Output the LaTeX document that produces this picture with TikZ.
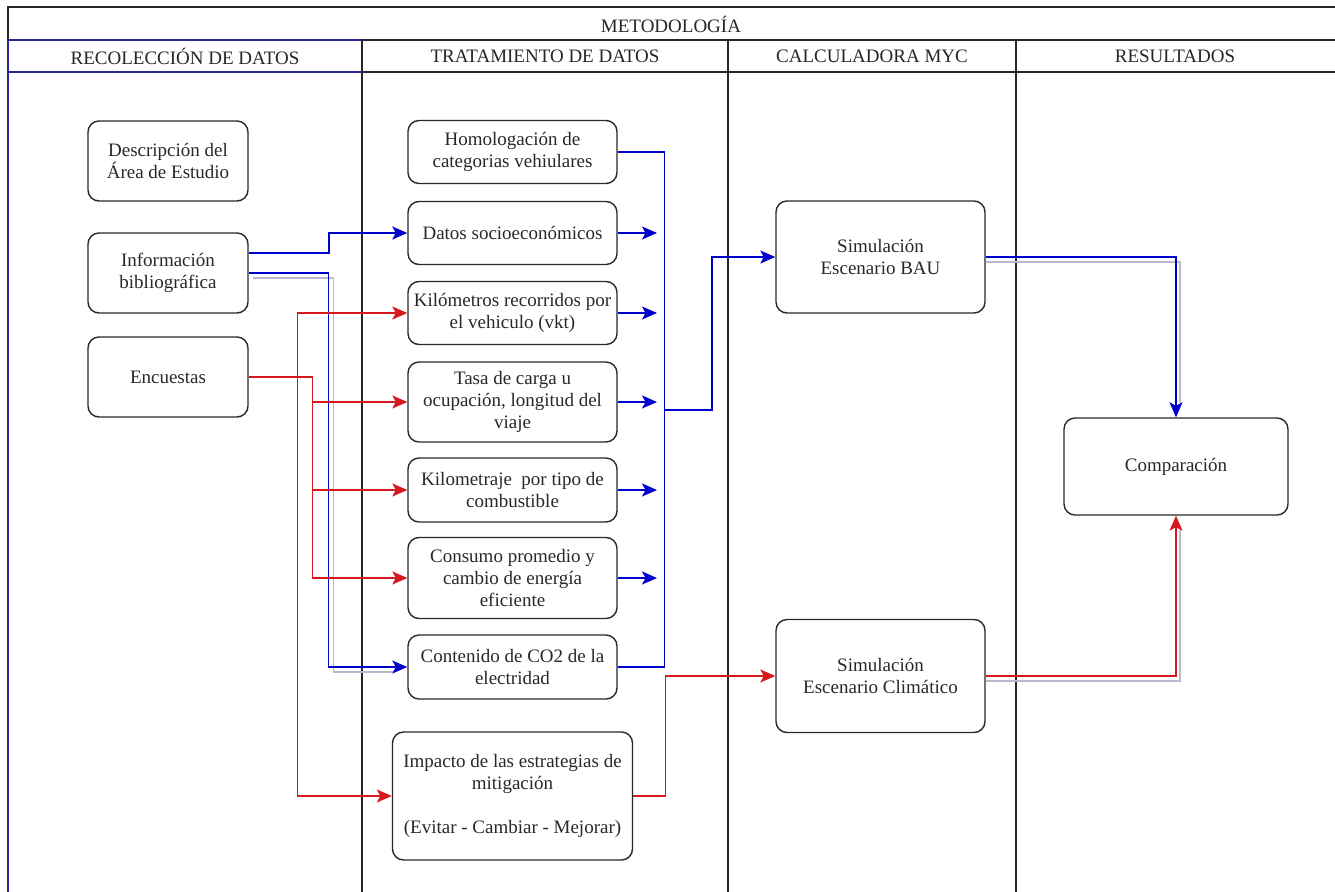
\documentclass[tikz,border=0pt]{standalone}
\usepackage{fontspec}
\setmainfont{Liberation Serif}
\usetikzlibrary{arrows.meta}
\definecolor{azulf}{RGB}{0,0,205}
\definecolor{rojof}{RGB}{215,25,30}
\definecolor{marino}{RGB}{40,40,150}
\definecolor{bordecaja}{RGB}{40,40,40}
\definecolor{textocaja}{RGB}{40,40,40}
\definecolor{grisclaro}{RGB}{185,185,205}
\tikzset{
  caja/.style={draw=bordecaja, line width=1.4pt, rounded corners=11pt, align=center,
    inner sep=2pt, text=textocaja, font=\fontsize{19}{22}\selectfont},
  cajamedia/.style={caja, minimum width=209pt},
  linea/.style={line width=1.5pt, draw=black!85},
  titulo/.style={font=\fontsize{19}{22}\selectfont, text=black!85},
  azul/.style={draw=azulf, line width=1.3pt},
  rojo/.style={draw=rojof, line width=1.3pt},
  sombra/.style={draw=grisclaro, line width=1.2pt},
  punta/.style={-{Stealth[length=15pt,width=13pt,inset=3.5pt]}},
}
\begin{document}
\begin{tikzpicture}[x=1pt,y=-1pt]
\useasboundingbox (0,0) rectangle (1335,891);
% marco y carriles
\draw[linea] (8,7) rectangle (1336,893);
\draw[linea] (362,40) -- (1336,40) (362,72) -- (1336,72);
\draw[linea] (362,40) -- (362,893) (728,40) -- (728,893) (1016,40) -- (1016,893);
\draw[line width=1.5pt, draw=marino] (8,40) -- (362,40) (8,72) -- (362,72) (8,40) -- (8,893);
\node[titulo] (metodo) at (671,24) {METODOLOGÍA};
\node[titulo] (recol) at (185,56) {RECOLECCIÓN DE DATOS};
\node[titulo] (trata) at (545,56) {TRATAMIENTO DE DATOS};
\node[titulo] (calcu) at (872,56) {CALCULADORA MYC};
\node[titulo] (resul) at (1175,56) {RESULTADOS};
% recoleccion
\node[caja, minimum width=160pt, minimum height=80pt] (desc) at (168,161) {Descripción del\\Área de Estudio};
\node[caja, minimum width=160pt, minimum height=80pt] (info) at (168,273) {Información\\bibliográfica};
\node[caja, minimum width=160pt, minimum height=80pt] (enc) at (168,377) {Encuestas};
% tratamiento
\node[cajamedia, minimum height=63pt] (homol) at (512.5,152) {Homologación de\\categorias vehiulares};
\node[cajamedia, minimum height=63pt] (datos) at (512.5,233) {Datos socioeconómicos};
\node[cajamedia, minimum height=63pt] (kilom) at (512.5,313) {Kilómetros recorridos por\\el vehiculo (vkt)};
\node[cajamedia, minimum height=80pt] (tasa) at (512.5,402) {Tasa de carga u\\ocupación, longitud del\\viaje};
\node[cajamedia, minimum height=64pt] (kmtraje) at (512.5,490) {Kilometraje~ por tipo de\\combustible};
\node[cajamedia, minimum height=81pt] (consumo) at (512.5,578) {Consumo promedio y\\cambio de energía\\eficiente};
\node[cajamedia, minimum height=64pt] (cont) at (512.5,667) {Contenido de CO2 de la\\electridad};
\node[caja, minimum width=240pt, minimum height=128pt] (impacto) at (512.5,796) {Impacto de las estrategias de\\mitigación\\[22pt](Evitar - Cambiar - Mejorar)};
% calculadora y resultados
\node[caja, minimum width=209pt, minimum height=112pt] (bau) at (880.5,257) {Simulación\\Escenario BAU};
\node[caja, minimum width=209pt, minimum height=113pt] (clim) at (880.5,676) {Simulación\\Escenario Climático};
\node[caja, minimum width=224pt, minimum height=97pt] (comp) at (1176,466.5) {Comparación};
% sombras claras
\draw[sombra, shorten >=14pt] ([shift={(4pt,-5pt)}]info.east) -- ++(81,0) |- ([yshift=-5pt]cont.west);
\draw[sombra, shorten >=14pt] ([yshift=-5pt]bau.east) -| ([xshift=4pt]comp.north);
\draw[sombra, shorten >=14pt] ([yshift=-5pt]clim.east) -| ([xshift=4pt]comp.south);
% conectores azules
\coordinate (fin) at (657,0);
\coordinate (bus) at (664,410);
\draw[azul, punta, line width=2pt] ([yshift=20pt]info.east) -- ++(80,0) |- (datos.west);
\draw[azul, punta] (info.east) -- ++(80,0) |- (cont.west);
\draw[azul] (homol.east) -- ++(47,0) |- (cont.east);
\foreach \n in {datos,kilom,tasa,kmtraje,consumo}
  \draw[azul, punta] (\n.east) -- (\n.east -| fin);
\draw[azul, punta] (bus) -- ++(48,0) |- (bau.west);
\draw[azul, punta] (bau.east) -| (comp.north);
% conectores rojos
\draw[rojo, punta] (enc.east) -- ++(49,0) |- (kilom.west);
\draw[rojo, punta] (enc.east) -- ++(49,0) |- (impacto.west);
\foreach \n in {tasa,kmtraje,consumo}
  \draw[rojo, punta] (enc.east) -- ++(64,0) |- (\n.west);
\draw[rojo, punta] (impacto.east) -- ++(32,0) |- (clim.west);
\draw[rojo, punta] (clim.east) -| (comp.south);
\end{tikzpicture}
\end{document}
